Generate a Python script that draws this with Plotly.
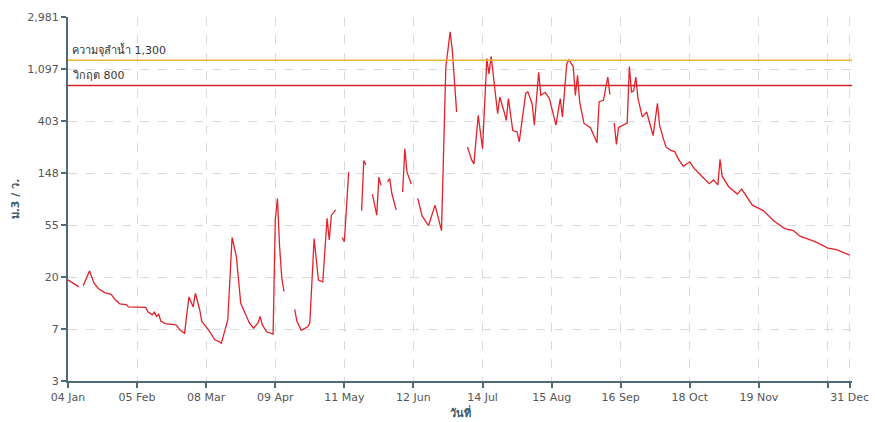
import numpy as np
import pandas as pd
import plotly.graph_objects as go

# Daily river flow (m3/s); None marks days with no reading
start_date = "2024-01-04"
day_offset = [
    0, 2, 5, 6, 7, 10, 12, 14, 17, 20, 22, 24, 27, 28, 36, 37, 39, 40, 41, 42, 43, 45,
    50, 52, 54, 56, 58, 59, 61, 62, 65, 68, 70, 71, 74, 76, 78, 80, 84, 86, 88, 89, 90,
    92, 95, 96, 97, 98, 99, 100, 101, 105, 106, 108, 111, 112, 114, 116, 118, 120, 121,
    122, 124, 125, 127, 128, 130, 131, 136, 137, 138, 139, 141, 143, 144, 145, 146, 148,
    149, 150, 152, 153, 155, 156, 157, 159, 160, 162, 164, 167, 170, 173, 175, 177, 178,
    180, 181, 185, 187, 188, 190, 192, 194, 195, 196, 199, 200, 202, 203, 204, 206, 208,
    209, 212, 213, 215, 216, 218, 219, 221, 223, 226, 228, 229, 231, 232, 234, 235, 236,
    237, 239, 242, 245, 246, 248, 250, 251, 252, 253, 254, 255, 259, 260, 261, 262, 263,
    264, 266, 268, 271, 273, 274, 276, 277, 279, 281, 283, 285, 288, 290, 293, 297, 299,
    301, 302, 303, 306, 310, 312, 317, 322, 327, 332, 336, 339, 346, 352, 356, 362,
]
flow = [
    19, 18, 16.6, None, 17, 22.6, 17.9, 16.1, 14.9, 14.4, 12.9, 12.0, 11.8, 11.3, 11.2, 10.3, 9.7, 10.2, 9.4, 9.8, 8.6, 8.2,
    8.0, 7.2, 6.8, 13.7, 11.3, 14.7, 10.7, 8.5, 7.3, 6.0, 5.8, 5.6, 8.8, 43, 29.6, 12.1, 8.3, 7.5, 8.3, 9.4, 8.0,
    7.0, 6.7, 60, 91, 36, 20, 15.2, None, 10.8, 8.6, 7.2, 7.7, 8.3, 42, 18.9, 18.3, 62, 41,
    66, 73, None, 43, 39.6, 151, None, 72, 189, 173, None, 99, 66, 137, 117, None, 125,
    133, 100, 73, None, 103, 237, 151, 120, None, 91, 65, 54, 80, 49, 1140, 2240, 1570,
    480, None, 245, 190, 177, 450, 237, 1340, 1000, 1400, 464, 640, 480, 408, 620, 336, 327,
    270, 690, 706, 560, 372, 1030, 660, 700, 620, 372, 620, 437, 1210, 1310, 1150, 660, 970,
    580, 385, 355, 265, 585, 600, 940, 670, None, 388, 257, 357, 388, 1150, 706, 720, 940,
    620, 437, 480, 305, 567, 370, 278, 245, 230, 224, 190, 169, 184, 162, 143, 121, 130,
    118, 193, 139, 114, 99, 109, 80, 72, 59, 51, 49, 44, 39.6, 35, 34, 30.6,
]

# Reference levels
capacity_level = 1300
critical_level = 800
capacity_label = "ความจุลำน้ำ 1,300"
critical_label = "วิกฤต 800"

# Axis ticks
x_tick_dates = ["2024-01-04", "2024-02-05", "2024-03-08", "2024-04-09", "2024-05-11",
                "2024-06-12", "2024-07-14", "2024-08-15", "2024-09-16", "2024-10-18",
                "2024-11-19", "2024-12-21", "2024-12-31"]
x_tick_text = ["04 Jan", "05 Feb", "08 Mar", "09 Apr", "11 May", "12 Jun", "14 Jul",
               "15 Aug", "16 Sep", "18 Oct", "19 Nov", "", "31 Dec"]
y_tick_power = [1, 2, 3, 4, 5, 6, 7, 8]
y_tick_text = ["3", "7", "20", "55", "148", "403", "1,097", "2,981"]

dates = pd.Timestamp(start_date) + pd.to_timedelta(day_offset, unit="D")
y_tick_vals = np.exp(y_tick_power)

axis_color = "#4d6b78"
grid_color = "#dadada"
font_family = "DejaVu Sans, Tahoma, sans-serif"

fig = go.Figure()
fig.add_trace(go.Scatter(
    x=dates, y=flow, mode="lines", connectgaps=False,
    line=dict(color="#e2222b", width=1.3), hoverinfo="x+y", showlegend=False,
))

fig.add_hline(y=capacity_level, line=dict(color="#e8b530", width=1.5), layer="above")
fig.add_hline(y=critical_level, line=dict(color="#d42029", width=1.5), layer="above")

fig.add_annotation(x=0.003, xref="paper", y=np.log10(capacity_level), yref="y",
                   text=capacity_label, showarrow=False, xanchor="left", yanchor="bottom",
                   yshift=1, font=dict(size=11, color="#333333", family=font_family))
fig.add_annotation(x=0.003, xref="paper", y=np.log10(critical_level), yref="y",
                   text=critical_label, showarrow=False, xanchor="left", yanchor="bottom",
                   yshift=1, font=dict(size=11, color="#333333", family=font_family))

fig.update_layout(
    width=875, height=422,
    margin=dict(l=68, r=23, t=17, b=41),
    paper_bgcolor="white", plot_bgcolor="white",
    font=dict(family=font_family, size=11, color="#555555"),
    xaxis=dict(
        type="date",
        range=["2024-01-04", "2025-01-01 03:00"],
        tickvals=x_tick_dates, ticktext=x_tick_text, tickangle=0,
        showline=True, linecolor=axis_color, linewidth=2,
        ticks="outside", ticklen=5, tickwidth=2, tickcolor=axis_color,
        showgrid=True, gridcolor=grid_color, griddash="dash", gridwidth=1,
        zeroline=False,
        tickfont=dict(size=11, color="#555555"),
        title=dict(text="<b>วันที่</b>", font=dict(size=11, color="#3d5a68"), standoff=6),
        automargin=False,
    ),
    yaxis=dict(
        type="log",
        range=[np.log10(np.exp(1)), np.log10(np.exp(8))],
        tickvals=y_tick_vals, ticktext=y_tick_text,
        showline=True, linecolor=axis_color, linewidth=2,
        ticks="outside", ticklen=5, tickwidth=2, tickcolor=axis_color,
        showgrid=True, gridcolor=grid_color, griddash="dash", gridwidth=1,
        zeroline=False,
        tickfont=dict(size=11, color="#555555"),
        title=dict(text="<b>ม.3 / ว.</b>", font=dict(size=11, color="#3d5a68"), standoff=5),
        automargin=False,
    ),
)

fig.write_html("out.html")
